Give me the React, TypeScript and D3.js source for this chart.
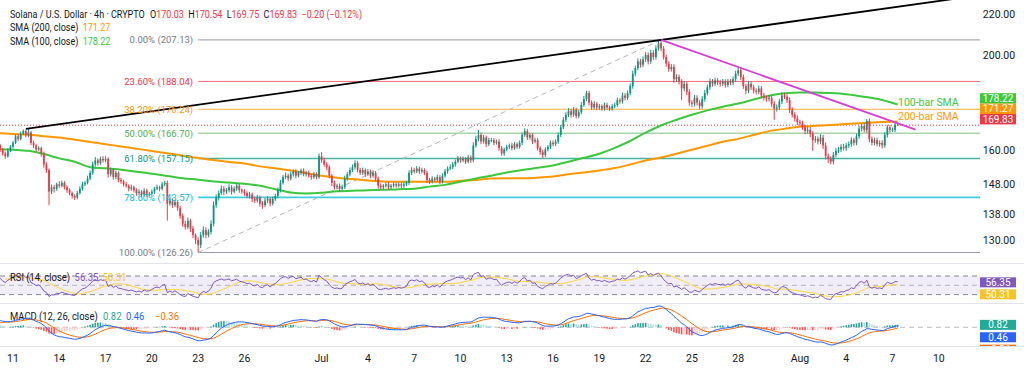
import * as d3 from "d3";

const W = 1024;
const H = 373;
const plotRight = 980;
const mainBottom = 263;
const rsiTop = 264;
const rsiBottom = 303;
const macdTop = 304;
const macdBottom = 346;
const FONT = "Roboto, 'Liberation Sans', sans-serif";

// 4h candles, first one Jun 6 2025 00:00 UTC (the first days only warm up RSI / MACD)
const firstCandle = Date.UTC(2025, 5, 6, 0);
const FOUR_H = 4 * 3600 * 1000;
const firstOpen = 151.5;

// closes, 6 per day
const closes = [
  152, 151, 150.5, 152, 153.5, 152.5, // Jun 6
  153, 154.5, 155, 154, 155.5, 156,
  155.5, 154, 153.5, 154.5, 153, 154,
  155, 156.5, 158, 160, 161.5, 163,
  162, 160.5, 159, 158, 160, 161.5, // Jun 10
  163, 165.5, 164.5, 166.5, 167.5, 166,
  167, 163, 162, 160.5, 161, 159,
  155, 153, 145.5, 147, 146.5, 148,
  147.5, 148.5, 147, 146, 145, 144,
  143.5, 145, 146.5, 148, 148.5, 150, // Jun 15
  152, 155, 156.5, 155.5, 157, 156.5,
  157, 151.5, 153, 150.5, 152, 149.5,
  149, 148, 147.5, 146.5, 147, 146,
  145, 145.5, 144.5, 145.8, 144.5, 144.8,
  145.5, 146.5, 147, 146.5, 148, 148.5, // Jun 20
  141.5, 142.5, 141, 142, 140, 137.5,
  135, 134, 136, 133.5, 131.5, 130,
  128.5, 131.5, 133, 131.5, 132.5, 135,
  141, 143.5, 145, 146.5, 145.5, 146,
  147, 145.5, 146.5, 147.5, 146, 145.5, // Jun 25
  145, 144, 144.5, 143, 142.5, 143.5,
  141.5, 141, 142.5, 143, 141.5, 143,
  144, 146, 148.5, 150.5, 151, 150,
  151.5, 152.5, 151, 152, 152.8, 151.5,
  152, 151, 150.5, 151.5, 150.5, 158, // Jun 30
  156.5, 155, 154, 151, 148.5, 147,
  147.5, 146.5, 147, 150, 151.5, 153,
  154, 155.5, 153, 152, 153, 151.5,
  152.5, 151, 152, 150, 147.5, 147,
  147.5, 148, 147, 147.5, 148, 147.5, // Jul 5
  148, 147.5, 148, 148.5, 152, 153,
  152.5, 153.5, 152.5, 153, 152, 149.5,
  149, 150, 149.5, 150.5, 149, 151,
  152.5, 153.5, 154, 155, 156, 157,
  156.5, 157, 156, 157.5, 156.5, 162, // Jul 10
  164.5, 166, 163.5, 165, 162.5, 164,
  164, 163, 163.5, 161, 159, 160.5,
  161.5, 162, 161, 162.5, 161.5, 163,
  166, 167.5, 165, 166, 163.5, 164,
  161, 159.5, 158.5, 160.5, 161.5, 163, // Jul 15
  162.5, 163.5, 166, 169, 172, 174,
  175.5, 174, 176, 173.5, 175, 178,
  180.5, 183, 179, 177, 178.5, 177,
  177.5, 176.5, 178, 177, 176.5, 177.5,
  178, 180, 179.5, 182, 181, 183, // Jul 20
  186, 191.5, 194, 197, 195.5, 198,
  200, 197, 201, 199, 203, 205.5,
  203, 199, 196, 193.5, 194.5, 189,
  190, 188, 185, 187, 183.5, 179,
  178.5, 181, 179, 177.5, 180.5, 183, // Jul 25
  185.5, 188, 187, 188.5, 187.5, 187,
  188, 186.5, 188, 187.5, 189, 191.5,
  193, 190, 186, 184, 187, 185.5,
  184, 183.5, 185, 182, 181, 180.5,
  181, 178.5, 176.5, 177, 179.5, 182, // Jul 30
  181.5, 180, 176, 174, 172.5, 171,
  170.5, 169, 167.5, 168, 166.5, 164, // Aug 1
  164.5, 163.5, 165, 162, 158, 157,
  156, 158.5, 160, 160.5, 161.5, 161,
  162, 162.5, 164, 163, 165.5, 168.5,
  169.5, 168, 171.5, 164.5, 163, 164, // Aug 5
  162.5, 163, 162, 166, 169, 168,
  168, 170.03, 169.83, // Aug 7
];

// wick above max(open, close)
const upperWicks = [
  0.8, 0.5, 0.6, 1.0, 0.7, 0.5, 0.6, 0.9, 0.7, 0.5, 0.8, 0.6,
  0.7, 0.5, 0.6, 0.8, 0.5, 0.7, 0.6, 0.8, 0.7, 0.9, 0.6, 1.0,
  0.8, 0.6, 0.5, 0.7, 0.9, 0.6, 0.7, 0.6, 0.9, 0.8, 0.7, 0.6,
  1.4, 0.6, 0.8, 0.5, 0.7, 0.6, 0.7, 0.8, 0.6, 0.9, 0.8, 0.6,
  1.1, 0.8, 0.6, 0.7, 0.6, 0.5, 0.6, 0.7, 0.8, 0.9, 0.6, 1.0,
  0.8, 1.0, 1.2, 0.7, 0.8, 1.0, 1.0, 0.6, 0.9, 0.7, 0.8, 0.5,
  0.7, 0.6, 0.8, 0.5, 0.9, 0.6, 0.6, 0.8, 0.5, 0.9, 0.7, 0.6,
  0.7, 0.6, 0.9, 0.5, 0.8, 0.7, 0.8, 0.9, 0.7, 0.8, 0.6, 0.7,
  0.7, 0.9, 1.0, 0.6, 0.8, 0.5, 0.8, 1.0, 1.2, 0.9, 0.8, 1.1,
  1.2, 1.0, 0.8, 1.1, 0.9, 0.7, 1.0, 0.7, 0.8, 0.9, 0.7, 0.6,
  0.8, 0.6, 0.9, 0.7, 0.8, 0.9, 0.7, 0.8, 0.9, 1.0, 0.6, 0.8,
  0.8, 0.9, 1.0, 0.8, 1.1, 0.7, 0.9, 0.7, 0.8, 0.6, 0.7, 0.8,
  0.7, 0.8, 0.6, 0.9, 0.7, 1.0, 1.5, 0.9, 0.8, 0.7, 0.6, 0.8,
  0.7, 0.8, 0.9, 1.0, 0.8, 0.9, 1.0, 1.0, 0.8, 0.7, 0.9, 0.6,
  0.8, 0.7, 0.9, 0.6, 0.7, 0.8, 0.6, 0.7, 0.8, 0.6, 0.7, 0.6,
  0.7, 0.6, 0.8, 0.7, 0.9, 1.0, 0.8, 0.9, 0.7, 0.8, 0.6, 0.7,
  0.7, 0.8, 0.6, 0.9, 0.7, 0.8, 0.9, 0.8, 1.0, 0.9, 0.8, 1.1,
  0.8, 0.9, 0.7, 1.0, 0.8, 1.2, 1.2, 2.0, 0.9, 1.0, 0.8, 0.9,
  0.9, 0.8, 0.7, 0.9, 0.8, 0.7, 0.8, 0.7, 0.9, 0.8, 0.7, 0.9,
  1.0, 1.1, 0.9, 0.8, 0.7, 0.9, 0.8, 0.7, 0.9, 0.8, 0.7, 0.9,
  0.9, 0.8, 1.0, 0.9, 1.1, 1.0, 1.2, 1.0, 1.1, 0.9, 1.0, 1.2,
  1.3, 1.0, 1.0, 0.9, 1.1, 0.8, 0.9, 0.8, 1.0, 0.9, 0.8, 0.9,
  1.0, 1.1, 0.9, 1.2, 1.0, 1.1, 1.2, 1.3, 1.1, 1.4, 1.2, 1.3,
  1.3, 1.2, 1.4, 1.2, 1.5, 1.3, 1.6, 1.2, 1.1, 1.0, 1.3, 1.2,
  1.2, 1.1, 1.0, 1.2, 1.0, 1.1, 1.0, 1.2, 1.1, 1.0, 1.2, 1.3,
  1.2, 1.3, 1.1, 1.2, 1.0, 1.1, 1.1, 1.0, 1.2, 1.1, 1.2, 1.3,
  1.0, 1.2, 1.1, 1.0, 1.2, 1.1, 1.1, 1.0, 1.2, 1.0, 1.1, 1.0,
  1.2, 1.0, 1.1, 1.2, 1.1, 1.3, 1.1, 1.0, 1.2, 1.1, 1.0, 1.2,
  1.0, 1.1, 1.0, 1.2, 1.1, 1.0, 1.1, 1.0, 1.2, 1.0, 1.1, 1.0,
  1.0, 1.1, 1.0, 0.9, 1.0, 1.1, 0.9, 1.0, 1.1, 0.9, 1.0, 1.2,
  1.0, 1.1, 0.8, 1.0, 0.9, 1.0, 1.0, 0.9, 1.0, 1.1, 1.0, 0.9,
  0.9, 0.8, 0.51,
];

// wick below min(open, close)
const lowerWicks = [
  0.5, 0.9, 0.7, 0.4, 0.6, 0.8, 0.6, 0.4, 0.8, 0.7, 0.5, 0.6,
  0.5, 0.8, 0.6, 0.4, 0.9, 0.5, 0.5, 0.6, 0.4, 0.7, 0.5, 0.6,
  0.7, 0.9, 0.8, 1.0, 0.6, 0.5, 0.6, 0.5, 0.8, 0.6, 0.5, 0.9,
  0.8, 0.9, 1.0, 0.8, 0.6, 1.2, 1.2, 1.0, 4.5, 0.8, 1.3, 0.7,
  0.7, 0.6, 0.8, 0.9, 0.7, 0.8, 0.8, 0.6, 0.5, 0.7, 0.6, 0.5,
  0.6, 0.7, 0.8, 0.9, 0.6, 0.8, 0.7, 1.2, 0.8, 0.9, 0.7, 0.8,
  0.8, 0.7, 0.6, 0.9, 0.7, 0.8, 0.9, 0.6, 0.8, 0.7, 0.9, 0.6,
  0.6, 0.8, 0.5, 0.9, 0.6, 0.7, 5.5, 0.7, 0.9, 0.6, 0.8, 0.9,
  1.0, 0.8, 0.7, 1.1, 0.9, 1.2, 2.2, 0.9, 0.8, 1.0, 0.7, 0.8,
  0.8, 0.9, 1.0, 0.7, 1.2, 0.8, 0.7, 1.0, 0.6, 0.8, 0.9, 0.7,
  0.9, 0.7, 0.8, 1.0, 0.8, 0.6, 1.0, 1.2, 0.7, 0.8, 0.9, 0.6,
  0.6, 0.7, 0.8, 0.6, 0.7, 0.9, 0.7, 0.8, 0.9, 0.6, 0.8, 0.7,
  0.8, 0.7, 0.9, 0.6, 0.8, 0.6, 0.9, 0.8, 1.0, 0.9, 1.1, 0.8,
  0.8, 1.0, 0.7, 0.6, 0.8, 0.7, 0.7, 0.8, 0.9, 0.7, 0.8, 0.9,
  0.6, 0.9, 0.7, 0.8, 1.0, 0.7, 0.7, 0.6, 0.8, 0.7, 0.6, 0.7,
  0.6, 0.8, 0.7, 0.6, 0.7, 0.8, 0.7, 0.6, 0.9, 0.7, 0.8, 1.0,
  0.9, 0.7, 0.8, 0.6, 0.9, 0.7, 0.7, 0.8, 0.6, 0.7, 0.8, 0.6,
  0.9, 0.7, 0.8, 0.6, 0.9, 0.7, 0.8, 0.9, 1.0, 0.8, 1.1, 0.7,
  0.8, 0.9, 0.7, 1.0, 0.8, 0.9, 0.7, 0.8, 0.9, 0.6, 0.8, 0.7,
  0.8, 0.7, 0.9, 0.8, 1.0, 0.7, 0.9, 1.0, 1.2, 0.8, 0.7, 0.8,
  0.8, 0.7, 0.9, 0.8, 0.7, 0.9, 0.9, 1.1, 0.8, 1.0, 0.9, 0.8,
  0.8, 0.9, 1.2, 1.0, 0.9, 1.1, 1.0, 0.9, 0.8, 1.0, 0.9, 0.8,
  0.9, 0.8, 1.0, 0.9, 1.1, 0.9, 1.0, 1.1, 1.2, 1.0, 1.3, 1.1,
  1.2, 1.4, 1.1, 1.3, 1.2, 1.0, 1.3, 1.2, 1.4, 1.2, 1.1, 1.5,
  1.1, 1.3, 5.0, 1.2, 1.4, 1.3, 1.4, 1.1, 1.2, 1.3, 1.0, 1.1,
  1.0, 1.1, 1.2, 1.0, 1.1, 1.2, 1.0, 1.2, 1.0, 1.1, 1.0, 1.1,
  1.1, 1.3, 1.2, 1.4, 1.1, 1.2, 1.2, 1.1, 1.0, 1.3, 1.2, 1.1,
  1.1, 1.3, 4.5, 1.2, 1.0, 1.1, 1.0, 1.2, 1.3, 1.1, 1.2, 1.1,
  1.1, 1.0, 1.2, 1.0, 1.3, 4.0, 1.0, 1.1, 1.0, 1.3, 1.2, 1.5,
  0.9, 1.0, 0.9, 0.8, 1.0, 0.9, 1.0, 0.9, 1.0, 1.1, 0.9, 1.0,
  1.1, 1.0, 1.2, 1.3, 1.0, 0.9, 0.9, 1.0, 1.1, 0.9, 1.0, 1.1,
  0.8, 0.9, 0.08,
];

// SMA lines, one value per day from Jun 10, the last one at the last candle
const smaStart = Date.UTC(2025, 5, 10);
const sma100 = [
  160.6, 160.4, 160.0, 158.8, 157.2, 156.0, 154.0, 153.6, 153.1, 152.4,
  151.7, 150.9, 150.1, 149.6, 149.0, 148.6, 148.2, 147.5, 146.3, 145.2,
  144.9, 145.1, 145.6, 145.8, 146.0, 146.1, 146.3, 146.5, 147.2, 147.8,
  148.9, 150.0, 151.0, 152.1, 153.0, 153.8, 154.6, 156.0, 157.4, 158.9,
  161.1, 163.7, 166.9, 169.7, 172.0, 174.0, 175.8, 177.3, 178.6, 180.3,
  181.9, 182.9, 183.3, 183.3, 183.0, 182.5, 181.6, 180.6, 178.22,
];
const sma200 = [
  166.7, 166.4, 166.1, 165.5, 165.0, 164.2, 163.3, 162.5, 161.6, 160.8,
  159.9, 159.1, 158.2, 157.3, 156.6, 155.9, 155.3, 154.3, 153.6, 152.8,
  151.9, 151.0, 150.3, 149.8, 149.3, 149.0, 148.9, 148.9, 148.9, 148.9,
  149.2, 149.5, 150.0, 150.1, 150.1, 150.3, 150.7, 151.5, 152.1, 152.8,
  153.7, 155.0, 156.4, 157.5, 158.9, 160.4, 161.9, 163.4, 164.5, 166.0,
  167.5, 168.4, 169.2, 169.6, 169.9, 170.3, 170.6, 171.0, 171.27,
];

// Fibonacci retracement drawn from the Jun 23 low to the Jul 23 high
const fibStart = Date.UTC(2025, 5, 23, 0);
const fibRatios = ["0.00%", "23.60%", "38.20%", "50.00%", "61.80%", "78.60%", "100.00%"];
const fibPrices = [207.13, 188.04, 176.24, 166.7, 157.15, 143.57, 126.26];
const fibColors = ["#787b86", "#f23645", "#ff9800", "#4caf50", "#089981", "#00bcd4", "#787b86"];

// trend lines: [time, price]
const resistanceLine: [number, number][] = [[Date.UTC(2025, 5, 11, 20), 168.4], [Date.UTC(2025, 6, 23, 0), 207.13]];
const fallingLine: [number, number][] = [[Date.UTC(2025, 6, 23, 0), 207.13], [Date.UTC(2025, 7, 8, 12), 168.1]];
const fibTrend: [number, number][] = [[Date.UTC(2025, 5, 23, 0), 126.26], [Date.UTC(2025, 6, 23, 0), 207.13]];

const priceTicks = [220, 200, 160, 148, 138, 130];
const dateTicks = [
  Date.UTC(2025, 5, 11), Date.UTC(2025, 5, 14), Date.UTC(2025, 5, 17), Date.UTC(2025, 5, 20),
  Date.UTC(2025, 5, 23), Date.UTC(2025, 5, 26), Date.UTC(2025, 6, 1), Date.UTC(2025, 6, 4),
  Date.UTC(2025, 6, 7), Date.UTC(2025, 6, 10), Date.UTC(2025, 6, 13), Date.UTC(2025, 6, 16),
  Date.UTC(2025, 6, 19), Date.UTC(2025, 6, 22), Date.UTC(2025, 6, 25), Date.UTC(2025, 6, 28),
  Date.UTC(2025, 7, 1), Date.UTC(2025, 7, 4), Date.UTC(2025, 7, 7), Date.UTC(2025, 7, 10),
];
const dateTickLabels = ["11", "14", "17", "20", "23", "26", "Jul", "4", "7", "10", "13", "16", "19", "22", "25", "28", "Aug", "4", "7", "10"];

const lastOHLC = ["170.03", "170.54", "169.75", "169.83"];
const lastChange = "−0.20 (−0.12%)";
const rsiLegend = [56.35, 50.31];
const macdLegend = [0.82, 0.46, -0.36]; // histogram, MACD, signal

const UP = "#089981";
const DOWN = "#f23645";
const GREEN = "#3cc83c";
const ORANGE = "#ff9800";
const TEXT = "#131722";

function rsiSeries(vals: number[], n: number) {
  const out: (number | null)[] = vals.map(() => null);
  let g = 0, l = 0;
  for (let i = 1; i <= n; i++) {
    const d = vals[i] - vals[i - 1];
    if (d > 0) g += d; else l -= d;
  }
  g /= n; l /= n;
  out[n] = 100 - 100 / (1 + g / l);
  for (let i = n + 1; i < vals.length; i++) {
    const d = vals[i] - vals[i - 1];
    g = (g * (n - 1) + Math.max(d, 0)) / n;
    l = (l * (n - 1) + Math.max(-d, 0)) / n;
    out[i] = l === 0 ? 100 : 100 - 100 / (1 + g / l);
  }
  return out;
}

function ema(vals: number[], n: number) {
  const k = 2 / (n + 1);
  let e = vals[0];
  return vals.map((v, i) => (e = i === 0 ? v : v * k + e * (1 - k)));
}

// push overlapping axis labels apart (down from the top one, or up from the bottom one)
function stack(ys: number[], h: number, up = false) {
  const out = ys.slice();
  const order = ys.map((y, i) => i).sort((a, b) => (up ? ys[b] - ys[a] : ys[a] - ys[b]));
  for (let k = 1; k < order.length; k++) {
    const prev = out[order[k - 1]];
    out[order[k]] = up ? Math.min(out[order[k]], prev - h) : Math.max(out[order[k]], prev + h);
  }
  return out;
}

const fmt = (v: number) => (v < 0 ? "−" + Math.abs(v).toFixed(2) : v.toFixed(2));

export default function App() {
  const candles = closes.map((c, i) => {
    const o = i === 0 ? firstOpen : closes[i - 1];
    return {
      t: firstCandle + i * FOUR_H,
      o,
      c,
      h: Math.max(o, c) + (upperWicks[i] ?? 0.8),
      l: Math.min(o, c) - (lowerWicks[i] ?? 0.8),
    };
  });
  const lastT = candles[candles.length - 1].t;

  const x = d3.scaleUtc().domain([Date.UTC(2025, 5, 11), Date.UTC(2025, 7, 7)]).range([13, 892.5]);
  const y = d3.scaleLog().domain([220, 130]).range([14, 240]);
  const xs = (t: number) => x(new Date(t));

  // indicators
  const rsi = rsiSeries(closes, 14);
  const rsiMa = rsi.map((v, i) => {
    if (i < 27) return null;
    return d3.mean(rsi.slice(i - 13, i + 1) as number[]) as number;
  });
  const e12 = ema(closes, 12);
  const e26 = ema(closes, 26);
  const macd = closes.map((_, i) => e12[i] - e26[i]);
  const signal = ema(macd, 9);
  const hist = macd.map((m, i) => m - signal[i]);

  const visible = candles.map((c, i) => i).filter((i) => xs(candles[i].t) > -3);
  const macdExt = d3.extent(visible.flatMap((i) => [macd[i], signal[i], hist[i]])) as [number, number];
  const yRsi = d3.scaleLinear().domain([70, 30]).range([276, 294.6]);
  const yMacd = d3.scaleLinear().domain(macdExt).range([345, 306]);

  const smaDate = (i: number, n: number) => (i < n - 1 ? smaStart + i * 24 * 3600 * 1000 : lastT);
  const smaLine = (vals: number[]) =>
    d3.line<number>()
      .x((v, i) => xs(smaDate(i, vals.length)))
      .y((v) => y(v))
      .curve(d3.curveMonotoneX)(vals) as string;

  const rsiLine = d3.line<number>()
    .defined((i) => rsi[i] != null)
    .x((i) => xs(candles[i].t))
    .y((i) => yRsi(rsi[i] as number));
  const rsiMaLine = d3.line<number>()
    .defined((i) => rsiMa[i] != null)
    .x((i) => xs(candles[i].t))
    .y((i) => yRsi(rsiMa[i] as number));
  const macdLine = d3.line<number>().x((i) => xs(candles[i].t)).y((i) => yMacd(macd[i]));
  const signalLine = d3.line<number>().x((i) => xs(candles[i].t)).y((i) => yMacd(signal[i]));
  const allIdx = candles.map((_, i) => i);

  const seg = (pts: [number, number][], extend = false) => {
    const x1 = xs(pts[0][0]), y1 = y(pts[0][1]);
    let x2 = xs(pts[1][0]), y2 = y(pts[1][1]);
    if (extend) {
      const slope = (y2 - y1) / (x2 - x1);
      y2 = y1 + slope * (plotRight - x1);
      x2 = plotRight;
    }
    return { x1, y1, x2, y2 };
  };
  const black = seg(resistanceLine, true);
  const pink = seg(fallingLine);
  const dashed = seg(fibTrend);
  const fibX = xs(fibStart);

  const lastPrice = +lastOHLC[3];
  const mainBoxes = [
    { v: sma100[sma100.length - 1], color: GREEN },
    { v: sma200[sma200.length - 1], color: ORANGE },
    { v: lastPrice, color: DOWN },
  ];
  const mainBoxY = stack(mainBoxes.map((b) => y(b.v) - 6), 10.4, true);
  const rsiBoxes = [
    { v: rsiLegend[0], color: "#7e57c2" },
    { v: rsiLegend[1], color: "#f7c325" },
  ];
  const rsiBoxY = stack(rsiBoxes.map((b) => yRsi(b.v)), 12);
  const macdBoxes = [
    { v: macdLegend[0], color: "#22ab94" },
    { v: macdLegend[1], color: "#2962ff" },
    { v: macdLegend[2], color: "#ff6d00" },
  ];
  const macdBoxY = stack(macdBoxes.map((b) => yMacd(b.v)), 12.4);

  const bodyW = 1.8;

  return (
    <div style={{ position: "absolute", left: 0, top: 0, width: W, height: H, background: "#fff" }}>
      <svg width={W} height={H} style={{ display: "block", fontFamily: FONT }}>
        <defs>
          <clipPath id="mainClip"><rect x={0} y={0} width={plotRight} height={mainBottom} /></clipPath>
          <clipPath id="rsiClip"><rect x={0} y={rsiTop} width={plotRight} height={rsiBottom - rsiTop} /></clipPath>
          <clipPath id="macdClip"><rect x={0} y={macdTop} width={plotRight} height={macdBottom - macdTop} /></clipPath>
          <clipPath id="macdAxisClip"><rect x={plotRight} y={macdTop} width={W - plotRight} height={macdBottom - macdTop} /></clipPath>
        </defs>
        <rect width={W} height={H} fill="#fff" />

        {/* pane separators */}
        {[mainBottom, rsiBottom, macdBottom].map((s) => (
          <line key={s} x1={0} x2={W} y1={s + 0.5} y2={s + 0.5} stroke="#e0e3eb" />
        ))}

        {/* main pane */}
        <g clipPath="url(#mainClip)">
          {fibPrices.map((p, i) => (
            <line key={i} x1={fibX} x2={plotRight} y1={y(p)} y2={y(p)} stroke={fibColors[i]}
              strokeOpacity={0.75} strokeWidth={i === 4 || i === 5 ? 1.6 : 1} />
          ))}
          <line {...dashed} stroke="#b2b5be" strokeDasharray="5 4" />
          <line x1={0} x2={plotRight} y1={y(lastPrice)} y2={y(lastPrice)} stroke={DOWN} strokeDasharray="1 2" />
          <path d={smaLine(sma200)} fill="none" stroke={ORANGE} strokeWidth={2} />
          <path d={smaLine(sma100)} fill="none" stroke={GREEN} strokeWidth={2} />
          {candles.map((c, i) => {
            const cx = xs(c.t);
            if (cx < -3) return null;
            const col = c.c >= c.o ? UP : DOWN;
            const top = y(Math.max(c.o, c.c));
            const bot = y(Math.min(c.o, c.c));
            return (
              <g key={i}>
                <line x1={cx} x2={cx} y1={y(c.h)} y2={y(c.l)} stroke={col} strokeWidth={1} />
                <rect x={cx - bodyW / 2} y={top} width={bodyW} height={Math.max(bot - top, 1)} fill={col} />
              </g>
            );
          })}
          <line {...black} stroke="#000" strokeWidth={1.8} />
          <line {...pink} stroke="#d63fd6" strokeWidth={1.8} />
          {fibPrices.map((p, i) => (
            <text key={i} x={fibX - 5} y={y(p) + 3.4} textAnchor="end" fontSize={9.5} fill={fibColors[i]}>
              {fibRatios[i]} ({p.toFixed(2)})
            </text>
          ))}
          <text x={898} y={y(sma100[sma100.length - 1]) + 1.5} fontSize={10.5} fill={GREEN}>100-bar SMA</text>
          <text x={898} y={y(sma200[sma200.length - 1]) - 2} fontSize={10.5} fill={ORANGE}>200-bar SMA</text>
        </g>

        {/* legend */}
        <g transform="translate(10,0) scale(0.86,1)">
          <text x={0} y={18.5} fontSize={10.5} fill={TEXT}>
            Solana / U.S. Dollar · 4h · CRYPTO
            <tspan dx={6}>O</tspan><tspan fill={DOWN}>{lastOHLC[0]}</tspan>
            <tspan dx={5}>H</tspan><tspan fill={DOWN}>{lastOHLC[1]}</tspan>
            <tspan dx={5}>L</tspan><tspan fill={DOWN}>{lastOHLC[2]}</tspan>
            <tspan dx={5}>C</tspan><tspan fill={DOWN}>{lastOHLC[3]}</tspan>
            <tspan dx={5} fill={DOWN}>{lastChange}</tspan>
          </text>
          <text x={0} y={31.5} fontSize={10.5} fill={TEXT}>
            SMA (200, close)<tspan dx={5} fill={ORANGE}>{sma200[sma200.length - 1].toFixed(2)}</tspan>
          </text>
          <text x={0} y={45.5} fontSize={10.5} fill={TEXT}>
            SMA (100, close)<tspan dx={5} fill={GREEN}>{sma100[sma100.length - 1].toFixed(2)}</tspan>
          </text>
        </g>

        {/* RSI pane */}
        <g clipPath="url(#rsiClip)">
          <rect x={0} y={yRsi(70)} width={plotRight} height={yRsi(30) - yRsi(70)} fill="#7e57c2" fillOpacity={0.1} />
          {[70, 50, 30].map((v) => (
            <line key={v} x1={0} x2={plotRight} y1={yRsi(v)} y2={yRsi(v)} stroke="#787b86"
              strokeOpacity={v === 50 ? 0.5 : 0.9} strokeDasharray="5 4" />
          ))}
          <path d={rsiMaLine(allIdx) as string} fill="none" stroke="#fdd835" strokeWidth={1} />
          <path d={rsiLine(allIdx) as string} fill="none" stroke="#7e57c2" strokeWidth={1} />
        </g>
        <g transform="translate(10,0) scale(0.9,1)">
          <text x={0} y={281.5} fontSize={10.5} fill={TEXT}>
            RSI (14, close)<tspan dx={5} fill="#7e57c2">{rsiLegend[0].toFixed(2)}</tspan>
            <tspan dx={5} fill="#f7c325">{rsiLegend[1].toFixed(2)}</tspan>
          </text>
          <text x={0} y={320.5} fontSize={10.5} fill={TEXT}>
            MACD (12, 26, close)<tspan dx={6} fill="#22ab94">{fmt(macdLegend[0])}</tspan>
            <tspan dx={5} fill="#2962ff">{fmt(macdLegend[1])}</tspan>
            <tspan dx={12} fill="#ff6d00">{fmt(macdLegend[2])}</tspan>
          </text>
        </g>

        {/* MACD pane */}
        <g clipPath="url(#macdClip)">
          <line x1={0} x2={plotRight} y1={yMacd(0)} y2={yMacd(0)} stroke="#787b86" strokeOpacity={0.5} strokeDasharray="5 4" />
          {allIdx.map((i) => {
            const hv = hist[i];
            const prev = i > 0 ? hist[i - 1] : hv;
            const col = hv >= 0 ? (hv >= prev ? "#26a69a" : "#b2dfdb") : (hv < prev ? "#ff5252" : "#ffcdd2");
            const y0 = yMacd(0), y1 = yMacd(hv);
            return (
              <rect key={i} x={xs(candles[i].t) - 0.8} y={Math.min(y0, y1)} width={1.6}
                height={Math.max(Math.abs(y1 - y0), 0.5)} fill={col} />
            );
          })}
          <path d={signalLine(allIdx) as string} fill="none" stroke="#ff6d00" strokeWidth={1} />
          <path d={macdLine(allIdx) as string} fill="none" stroke="#2962ff" strokeWidth={1} />
        </g>

        {/* price axis */}
        {priceTicks.map((p) => (
          <text key={p} x={999} y={y(p) + 3.6} textAnchor="middle" fontSize={10.5} fill={TEXT}>{p.toFixed(2)}</text>
        ))}
        {mainBoxes.map((b, i) => (
          <g key={i}>
            <rect x={plotRight} y={mainBoxY[i] - 5.2} width={36} height={10.4} fill={b.color} />
            <text x={998} y={mainBoxY[i] + 3.5} textAnchor="middle" fontSize={10} fill="#fff">{b.v.toFixed(2)}</text>
          </g>
        ))}
        {rsiBoxes.map((b, i) => (
          <g key={i}>
            <rect x={plotRight} y={rsiBoxY[i] - 5} width={36} height={10} fill={b.color} />
            <text x={998} y={rsiBoxY[i] + 3.5} textAnchor="middle" fontSize={10} fill="#fff">{b.v.toFixed(2)}</text>
          </g>
        ))}
        <g clipPath="url(#macdAxisClip)">
          {macdBoxes.map((b, i) => (
            <g key={i}>
              <rect x={plotRight} y={macdBoxY[i] - 5} width={36} height={10} fill={b.color} />
              <text x={998} y={macdBoxY[i] + 3.5} textAnchor="middle" fontSize={10} fill="#fff">{fmt(b.v)}</text>
            </g>
          ))}
        </g>

        {/* time axis */}
        {dateTicks.map((t, i) => (
          <text key={i} x={xs(t)} y={361.5} textAnchor="middle" fontSize={10.5} fill={TEXT}>{dateTickLabels[i]}</text>
        ))}
      </svg>
    </div>
  );
}
